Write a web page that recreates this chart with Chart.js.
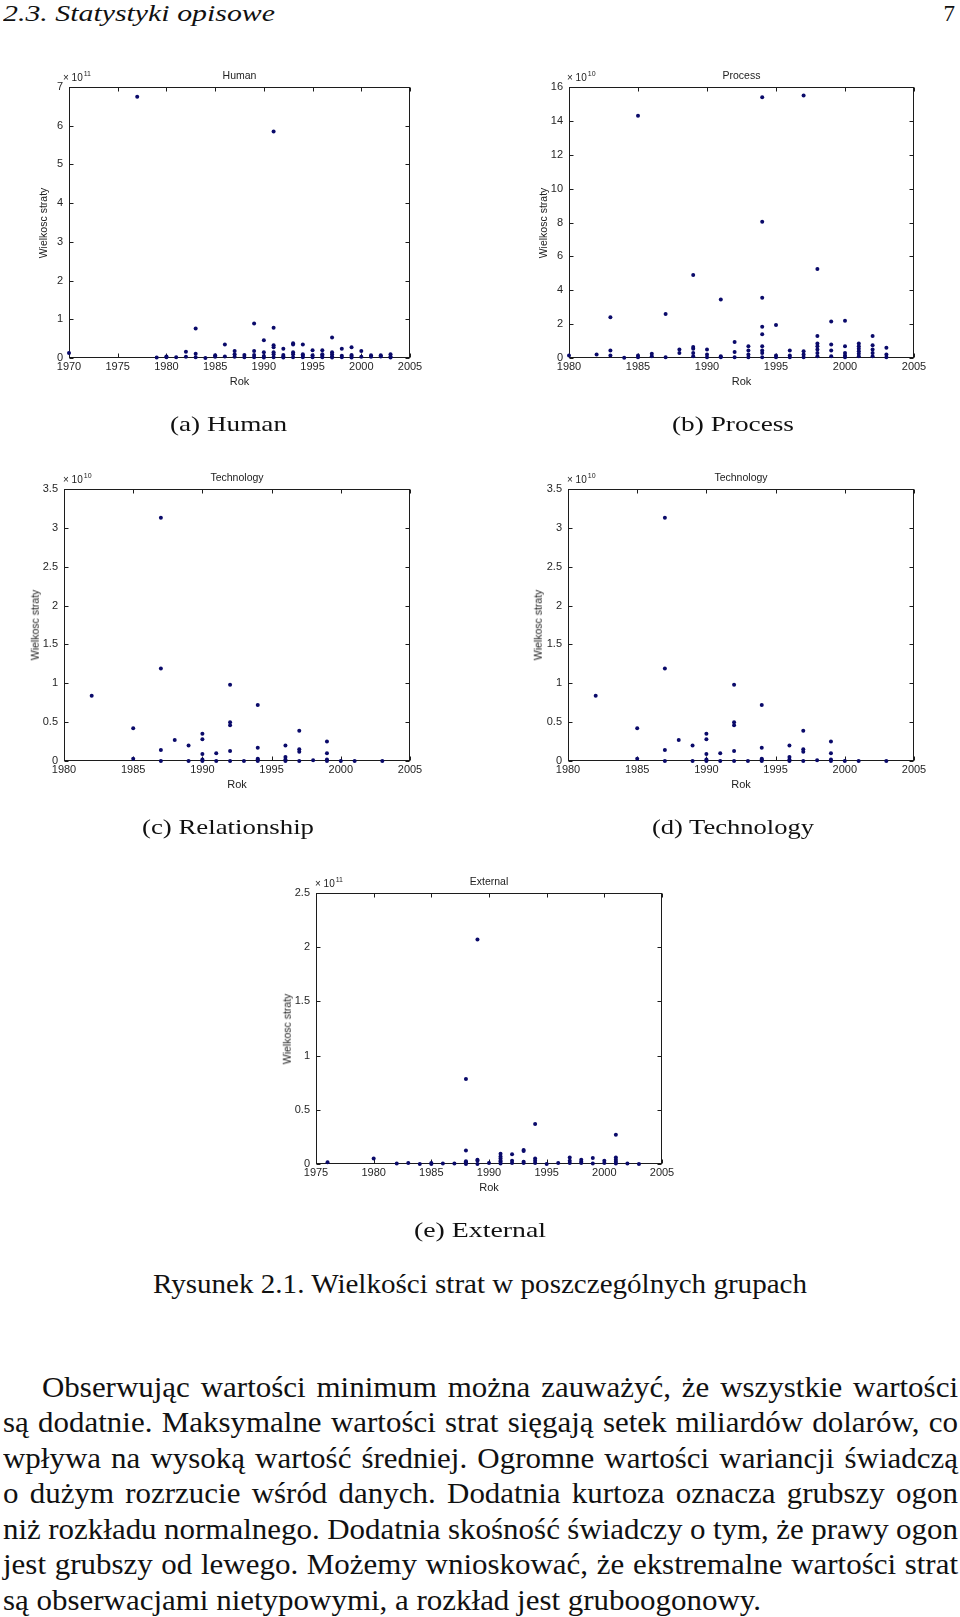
<!DOCTYPE html>
<html><head><meta charset="utf-8">
<script src="https://cdn.jsdelivr.net/npm/chart.js@4.4.1/dist/chart.umd.min.js"></script>
<style>
html,body{margin:0;padding:0;background:#fff;}
body{width:960px;height:1617px;position:relative;overflow:hidden;}
canvas{position:absolute;}
.t{position:absolute;white-space:nowrap;line-height:1;color:#111;}
.serif{font-family:"Liberation Serif","Times New Roman",Tinos,Times,"Noto Serif",serif;}
.sans{font-family:"Liberation Sans",Arial,Helvetica,sans-serif;color:#222;}
</style></head><body>
<script>
// ---------- DATA (loss values are in units of 10^exponent) ----------
const humanYears = [1970,1977,1979,1980,1981,1982,1983,1984,1985,1986,1987,1988,1989,1990,1991,1992,1993,1994,1995,1996,1997,1998,1999,2000,2001,2002,2003];
const humanLoss = [[0.13],[6.75],[0.01],[0.04,0.02],[0.02],[0.16,0.03],[0.76,0.11,0.02],[0.0],[0.07,0.03],[0.35,0.04],[0.18,0.1,0.03],[0.08,0.02],[0.89,0.18,0.08,0.02],[0.46,0.15,0.05,0.01],[5.85,0.78,0.33,0.28,0.15,0.1,0.02],[0.24,0.08,0.04,0.01],[0.38,0.35,0.15,0.1,0.02],[0.35,0.1,0.06,0.02],[0.2,0.07,0.02],[0.2,0.1,0.06,0.02],[0.53,0.15,0.1,0.04,0.01],[0.24,0.06,0.02],[0.28,0.08,0.05,0.01],[0.18,0.03],[0.07,0.03],[0.07,0.04],[0.1,0.04,0.01]];
const humanXTicks = [1970,1975,1980,1985,1990,1995,2000,2005];
const humanYTicks = [0,1,2,3,4,5,6,7];

const processYears = [1980,1982,1983,1984,1985,1986,1987,1988,1989,1990,1991,1992,1993,1994,1995,1996,1997,1998,1999,2000,2001,2002,2003];
const processLoss = [[0.15],[0.2],[2.4,0.45,0.15],[0.02],[14.3,0.15,0.05],[0.25,0.1],[2.6,0.05],[0.5,0.3],[4.9,0.65,0.55,0.3,0.1],[0.5,0.2,0.05],[3.45,0.1,0.05],[0.95,0.35,0.05],[0.7,0.45,0.2,0.05],[15.4,8.05,3.55,1.85,1.4,0.7,0.45,0.3,0.05],[1.95,0.15,0.05],[0.45,0.15,0.05],[15.5,0.4,0.2,0.05],[5.25,1.3,0.85,0.7,0.5,0.3,0.1],[2.15,0.8,0.45,0.1],[2.2,0.7,0.3,0.15,0.05],[0.85,0.7,0.55,0.4,0.25,0.1],[1.3,0.75,0.5,0.3,0.1],[0.6,0.2,0.05]];
const processXTicks = [1980,1985,1990,1995,2000,2005];
const processYTicks = [0,2,4,6,8,10,12,14,16];

const relYears = [1982,1985,1987,1988,1989,1990,1991,1992,1993,1994,1996,1997,1998,1999,2000,2001,2003];
const relLoss = [[0.84],[0.42,0.03],[3.13,1.19,0.14,0],[0.27],[0.2,0],[0.35,0.28,0.09,0.02,0],[0.1,0],[0.98,0.5,0.46,0.13,0],[0],[0.72,0.17,0.03,0.02,0],[0.2,0.05,0.02,0],[0.39,0.15,0.12,0],[0.01],[0.25,0.1,0.02,0],[0],[0],[0]];
const relXTicks = [1980,1985,1990,1995,2000,2005];
const relYTicks = [0,0.5,1,1.5,2,2.5,3,3.5];

const techYears = [1982,1985,1987,1988,1989,1990,1991,1992,1993,1994,1996,1997,1998,1999,2000,2001,2003];
const techLoss = [[0.84],[0.42,0.03],[3.13,1.19,0.14,0],[0.27],[0.2,0],[0.35,0.28,0.09,0.02,0],[0.1,0],[0.98,0.5,0.46,0.13,0],[0],[0.72,0.17,0.03,0.02,0],[0.2,0.05,0.02,0],[0.39,0.15,0.12,0],[0.01],[0.25,0.1,0.02,0],[0],[0],[0]];
const techXTicks = [1980,1985,1990,1995,2000,2005];
const techYTicks = [0,0.5,1,1.5,2,2.5,3,3.5];

const extYears = [1976,1980,1982,1983,1984,1985,1986,1987,1988,1989,1990,1991,1992,1993,1994,1995,1996,1997,1998,1999,2000,2001,2002,2003];
const extLoss = [[0.015],[0.05],[0.005],[0.01],[0],[0.01,0],[0.005],[0.005],[0.785,0.125,0.025,0.015,0],[2.07,0.04,0.03,0],[0.01],[0.095,0.07,0.05,0.03,0.02,0.005],[0.09,0.03,0.01],[0.13,0.12,0.02,0.01],[0.37,0.05,0.03,0.01],[0],[0.01],[0.06,0.03,0.01],[0.04,0.02,0.01],[0.055,0.005],[0.03,0.01],[0.27,0.06,0.04,0.02,0.005],[0.005],[0]];
const extXTicks = [1975,1980,1985,1990,1995,2000,2005];
const extYTicks = [0,0.5,1,1.5,2,2.5];

const chartTitles = ['Human','Process','Technology','Technology','External'];
const chartExponents = [11,10,10,10,11];
const xAxisTitle = 'Rok';
const yAxisTitle = 'Wielkosc straty';
const subCaptions = ['(a) Human','(b) Process','(c) Relationship','(d) Technology','(e) External'];
const headerText = '2.3. Statystyki opisowe';
const pageNumber = '7';
const figureCaption = 'Rysunek 2.1. Wielkości strat w poszczególnych grupach';
const paragraphLines = [
 'Obserwując wartości minimum można zauważyć, że wszystkie wartości',
 'są dodatnie. Maksymalne wartości strat sięgają setek miliardów dolarów, co',
 'wpływa na wysoką wartość średniej. Ogromne wartości wariancji świadczą',
 'o dużym rozrzucie wśród danych. Dodatnia kurtoza oznacza grubszy ogon',
 'niż rozkładu normalnego. Dodatnia skośność świadczy o tym, że prawy ogon',
 'jest grubszy od lewego. Możemy wnioskować, że ekstremalne wartości strat',
 'są obserwacjami nietypowymi, a rozkład jest gruboogonowy.'
];

// ---------- LAYOUT ----------
const panels = [
 {years:humanYears, loss:humanLoss, xt:humanXTicks, yt:humanYTicks, box:[69,87,410,358], expDx:-6, yLabelX:43},
 {years:processYears, loss:processLoss, xt:processXTicks, yt:processYTicks, box:[569,87,914,358], expDx:-2, yLabelX:543},
 {years:relYears, loss:relLoss, xt:relXTicks, yt:relYTicks, box:[64,489,410,761], expDx:-1, yLabelX:35},
 {years:techYears, loss:techLoss, xt:techXTicks, yt:techYTicks, box:[568,489,914,761], expDx:-1, yLabelX:538},
 {years:extYears, loss:extLoss, xt:extXTicks, yt:extYTicks, box:[316,893,662,1164], expDx:-1, yLabelX:287}
];

const matlabBox = {
  id:'matlabBox',
  beforeDatasetsDraw(chart){
    const {ctx, chartArea:a, scales:{x,y}} = chart;
    ctx.save();
    ctx.strokeStyle='#1c1c1c'; ctx.lineWidth=1;
    const l=Math.round(a.left)+0.5, r=Math.round(a.right)-0.5, t=Math.round(a.top)+0.5, b=Math.round(a.bottom)-0.5;
    ctx.strokeRect(l,t,r-l,b-t);
    const tl=4;
    ctx.beginPath();
    x.ticks.forEach(tk=>{const p=Math.round(x.getPixelForValue(tk.value))+0.5; ctx.moveTo(p,b); ctx.lineTo(p,b-tl); ctx.moveTo(p,t); ctx.lineTo(p,t+tl);});
    y.ticks.forEach(tk=>{const p=Math.round(y.getPixelForValue(tk.value))+0.5; ctx.moveTo(l,p); ctx.lineTo(l+tl,p); ctx.moveTo(r,p); ctx.lineTo(r-tl,p);});
    ctx.stroke();
    ctx.restore();
  }
};

const PADL=60, PADT=30, PADR=25, PADB=45;
const tickFont = {family:'"Liberation Sans", Arial, Helvetica, sans-serif', size:11};

function addText(str, o){
  const el=document.createElement('div');
  el.className='t '+(o.cls||'serif');
  if (o.html) el.innerHTML=str; else el.textContent=str;
  el.style.fontSize=o.size+'px';
  if (o.italic) el.style.fontStyle='italic';
  document.body.appendChild(el);
  const asc = (o.cls==='sans') ? 0.8465 : 0.8375;
  if (o.rotate){
    el.style.left=o.cx+'px'; el.style.top=o.cy+'px';
    el.style.transform='translate(-50%,-50%) rotate(-90deg)';
    return el;
  }
  el.style.top=(o.baseline-asc*o.size)+'px';
  const w=el.getBoundingClientRect().width;
  if (o.width){
    el.style.left=o.left+'px'; el.style.transformOrigin='0 0';
    el.style.transform='scaleX('+(o.width/w)+')';
  } else if (o.center!=null){
    el.style.left=(o.center-w/2)+'px';
  } else if (o.right!=null){
    el.style.left=(o.right-w)+'px';
  } else {
    el.style.left=o.left+'px';
  }
  return el;
}

panels.forEach((p,i)=>{
  const [L,T,R,B]=p.box;
  const cv=document.createElement('canvas');
  const W=R-L+PADL+PADR, H=B-T+PADT+PADB;
  cv.width=W; cv.height=H;
  cv.style.left=(L-PADL)+'px'; cv.style.top=(T-PADT)+'px';
  cv.style.width=W+'px'; cv.style.height=H+'px';
  document.body.appendChild(cv);
  const pts=[];
  p.years.forEach((yr,k)=>p.loss[k].forEach(v=>pts.push({x:yr,y:v})));
  new Chart(cv.getContext('2d'),{
    type:'scatter',
    data:{datasets:[{data:pts, pointStyle:'circle', pointRadius:2, pointHoverRadius:2, backgroundColor:'#0a0a6a', borderColor:'#0a0a6a', borderWidth:0, clip:false}]},
    options:{
      responsive:false, animation:false, events:[], devicePixelRatio:1,
      layout:{padding:{left:0, top:PADT, right:PADR, bottom:0}},
      plugins:{legend:{display:false}, tooltip:{enabled:false}, title:{display:false}},
      scales:{
        x:{type:'linear', position:'bottom', min:p.xt[0], max:p.xt[p.xt.length-1],
           afterBuildTicks:s=>{s.ticks=p.xt.map(v=>({value:v}));},
           afterFit:s=>{s.height=PADB;},
           grid:{display:false, drawTicks:false}, border:{display:false},
           ticks:{padding:2, font:tickFont, color:'#262626', maxRotation:0, autoSkip:false, callback:v=>String(v)}},
        y:{type:'linear', position:'left', min:p.yt[0], max:p.yt[p.yt.length-1],
           afterBuildTicks:s=>{s.ticks=p.yt.map(v=>({value:v}));},
           afterFit:s=>{s.width=PADL;},
           grid:{display:false, drawTicks:false}, border:{display:false},
           ticks:{padding:6, font:tickFont, color:'#262626', autoSkip:false, callback:v=>String(v)}}
      }
    },
    plugins:[matlabBox]
  });
  const cx=(L+R)/2;
  addText(chartTitles[i], {cls:'sans', size:10.5, center:cx, baseline:T-8});
  addText(xAxisTitle, {cls:'sans', size:11, center:cx, baseline:B+27});
  addText(yAxisTitle, {cls:'sans', size:10.5, rotate:true, cx:p.yLabelX, cy:(T+B)/2});
  addText('× 10<span style="font-size:7px;position:relative;top:-5px;margin-left:1px">'+chartExponents[i]+'</span>',
          {cls:'sans', html:true, size:10, left:L+p.expDx, baseline:T-6});
});

// ---------- PAGE TEXT ----------
addText(headerText, {italic:true, size:23, left:3, width:272, baseline:21});
addText(pageNumber, {size:23, right:955, baseline:21});
const capSpec = [[170,117,431],[672,122,431],[142,172,834],[652,162,834],[414,132,1237]];
subCaptions.forEach((c,i)=>addText(c,{size:22, left:capSpec[i][0], width:capSpec[i][1], baseline:capSpec[i][2]}));
addText(figureCaption, {size:27, left:153, width:654, baseline:1294});

// paragraph: common horizontal stretch from the last (unjustified) line, others justified
const PFS=29, PRIGHT=958, PB0=1397, PLH=35.5;
function measure(str){
  const e=document.createElement('span'); e.className='t serif'; e.style.fontSize=PFS+'px'; e.textContent=str;
  document.body.appendChild(e); const w=e.getBoundingClientRect().width; e.remove(); return w;
}
const lastW=measure(paragraphLines[paragraphLines.length-1]);
const S=758/lastW;
paragraphLines.forEach((ln,i)=>{
  const left = i===0 ? 42 : 3;
  const base = PB0 + i*PLH;
  const el=addText(ln,{size:PFS, left:left, baseline:base});
  el.style.transformOrigin='0 0';
  el.style.transform='scaleX('+S+')';
  if (i<paragraphLines.length-1){
    const w=measure(ln);
    const spaces=(ln.match(/ /g)||[]).length;
    const avail=(PRIGHT-left)/S;
    el.style.wordSpacing=((avail-w)/spaces)+'px';
  }
});
</script>
</body></html>
